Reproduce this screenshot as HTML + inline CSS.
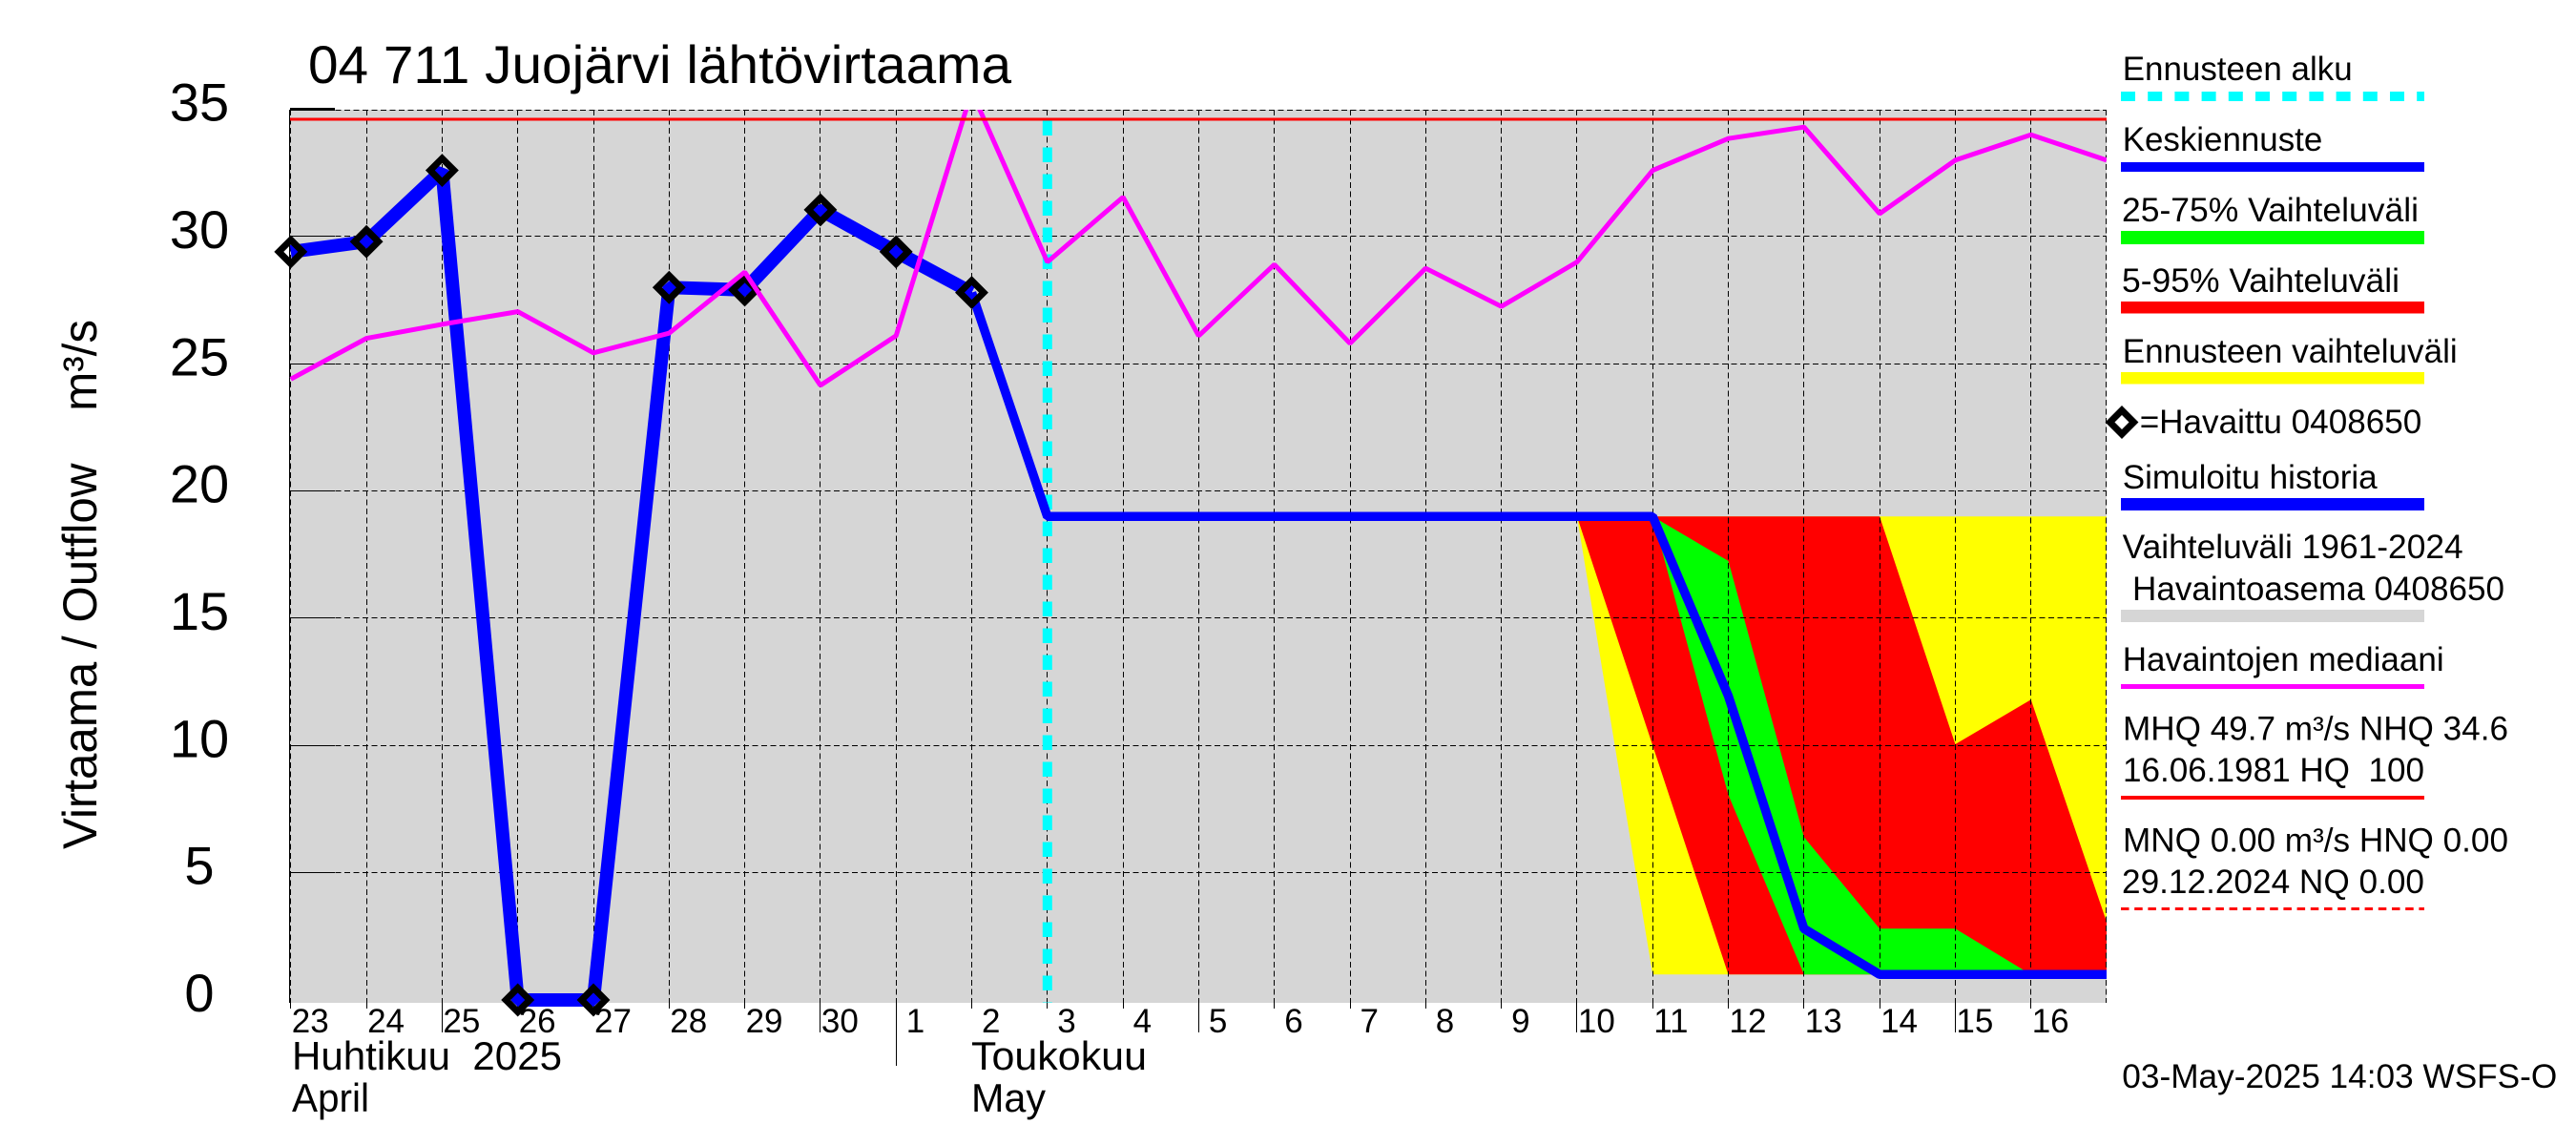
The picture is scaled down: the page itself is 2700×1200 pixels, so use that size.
<!DOCTYPE html>
<html lang="fi">
<head>
<meta charset="utf-8">
<title>04 711 Juojärvi lähtövirtaama</title>
<style>
  html, body { margin: 0; padding: 0; background: #fff; }
  svg { display: block; }
  text { font-family: "Liberation Sans", Arial, sans-serif; fill: #000; white-space: pre; }
  .lg { font-size: 35px; }
</style>
</head>
<body>
<svg id="chart" xmlns="http://www.w3.org/2000/svg" width="2700" height="1200" viewBox="0 0 2700 1200">
  <defs>
    <clipPath id="plot-clip"><rect x="303" y="115" width="1905" height="945"></rect></clipPath>
  </defs>
  <rect x="0" y="0" width="2700" height="1200" fill="#fff"></rect>
  <rect x="304" y="115" width="1904" height="936" fill="#d6d6d6"></rect>
  <g id="ranges"></g>
  <g id="grid"></g>
  <g id="series"></g>
  <g id="xlabels"></g>
  <g id="ylabels"></g>

  <text x="323" y="87" font-size="56" textLength="737" lengthAdjust="spacingAndGlyphs">04 711 Juojärvi lähtövirtaama</text>
  <text transform="translate(101,890) rotate(-90)" font-size="50" textLength="555" lengthAdjust="spacingAndGlyphs">Virtaama / Outflow    m³/s</text>

  <text x="306" y="1121" font-size="42" textLength="283" lengthAdjust="spacingAndGlyphs">Huhtikuu  2025</text>
  <text x="306" y="1165" font-size="42" textLength="81" lengthAdjust="spacingAndGlyphs">April</text>
  <text x="1018" y="1121" font-size="42" textLength="184" lengthAdjust="spacingAndGlyphs">Toukokuu</text>
  <text x="1018" y="1165" font-size="42" textLength="78" lengthAdjust="spacingAndGlyphs">May</text>

  <g>
    <text class="lg" x="2224.7" y="84" textLength="241" lengthAdjust="spacingAndGlyphs">Ennusteen alku</text>
    <line x1="2223" x2="2541" y1="101" y2="101" stroke="#00ffff" stroke-width="10" stroke-dasharray="15 13.2"></line>
    <text class="lg" x="2224.7" y="158" textLength="209.6" lengthAdjust="spacingAndGlyphs">Keskiennuste</text>
    <rect x="2223" y="170" width="318" height="10" fill="#0000ff"></rect>
    <text class="lg" x="2224" y="232" textLength="311" lengthAdjust="spacingAndGlyphs">25-75% Vaihteluväli</text>
    <rect x="2223" y="242" width="318" height="14" fill="#00ff00"></rect>
    <text class="lg" x="2224" y="306" textLength="291" lengthAdjust="spacingAndGlyphs">5-95% Vaihteluväli</text>
    <rect x="2223" y="316" width="318" height="12.5" fill="#ff0000"></rect>
    <text class="lg" x="2224.7" y="380" textLength="351" lengthAdjust="spacingAndGlyphs">Ennusteen vaihteluväli</text>
    <rect x="2223" y="390" width="318" height="12.5" fill="#ffff00"></rect>
    <path d="M2224 430 L2236.5 442.5 L2224 455 L2211.5 442.5 Z" fill="#fff" stroke="#000" stroke-width="7" stroke-linejoin="miter"></path>
    <text class="lg" x="2242.7" y="454" textLength="295.6" lengthAdjust="spacingAndGlyphs">=Havaittu 0408650</text>
    <text class="lg" x="2224.7" y="512" textLength="267" lengthAdjust="spacingAndGlyphs">Simuloitu historia</text>
    <rect x="2223" y="522" width="318" height="13" fill="#0000ff"></rect>
    <text class="lg" x="2224.7" y="585" textLength="357" lengthAdjust="spacingAndGlyphs">Vaihteluväli 1961-2024</text>
    <text class="lg" x="2235" y="629" textLength="390" lengthAdjust="spacingAndGlyphs">Havaintoasema 0408650</text>
    <rect x="2223" y="639" width="318" height="13" fill="#d6d6d6"></rect>
    <text class="lg" x="2224.7" y="703" textLength="337" lengthAdjust="spacingAndGlyphs">Havaintojen mediaani</text>
    <rect x="2223" y="717" width="318" height="5" fill="#ff00ff"></rect>
    <text class="lg" x="2225" y="775.5" textLength="404" lengthAdjust="spacingAndGlyphs">MHQ 49.7 m³/s NHQ 34.6</text>
    <text class="lg" x="2225" y="819" textLength="316" lengthAdjust="spacingAndGlyphs">16.06.1981 HQ  100</text>
    <rect x="2223" y="834" width="318" height="4" fill="#ff0000"></rect>
    <text class="lg" x="2225" y="892.5" textLength="404" lengthAdjust="spacingAndGlyphs">MNQ 0.00 m³/s HNQ 0.00</text>
    <text class="lg" x="2224" y="936" textLength="317" lengthAdjust="spacingAndGlyphs">29.12.2024 NQ 0.00</text>
    <line x1="2223" x2="2541" y1="952.5" y2="952.5" stroke="#ff0000" stroke-width="3" stroke-dasharray="8.5 5.7"></line>
  </g>
  <text class="lg" x="2224.3" y="1140" textLength="456" lengthAdjust="spacingAndGlyphs">03-May-2025 14:03 WSFS-O</text>
</svg>

<script>
// --- chart data -----------------------------------------------------------
const dayLabels = ["23","24","25","26","27","28","29","30","1","2","3","4","5","6","7","8","9","10","11","12","13","14","15","16"];
const yTickLabels = ["0","5","10","15","20","25","30","35"];
const yTickValues = [0,5,10,15,20,25,30,35];
const observedValues = [29.4,29.8,32.6,0,0,28.0,27.9,31.05,29.4,27.8];
const simulatedHistory = [29.4,29.8,32.6,0,0,28.0,27.9,31.05,29.4,27.8];
const meanForecast = [27.8,19,19,19,19,19,19,19,19,19,11.95,2.8,1,1,1,1];
const medianValues = [24.4,26.0,26.55,27.05,25.43,26.2,28.6,24.15,26.1,35.7,29.0,31.55,26.1,28.9,25.8,28.75,27.25,29.0,32.6,33.85,34.3,30.9,33.0,34.0,33.0];
const yellowUpper = [19,19,19,19,19,19,19,19];
const yellowLower = [19,1,1,1,1,1,1,1];
const redUpper = [19,19,19,19,19,10.05,11.8,3.07];
const redLower = [19,10,1,1,1,1,1,1];
const greenUpper = [19,19,17.25,6.4,2.8,2.8,1,1];
const greenLower = [19,19,8.06,1,1,1,1,1];
const highestFlow = 34.6;
const forecastStartDay = 10;
const rangeStartDay = 17;
const totalDays = 24;

// --- axis functions --------------------------------------------------------
const xAxis = d => 304.8 + d * 79.3;
const yAxis = v => 1048 - v * 26.67;

const NS = 'http://www.w3.org/2000/svg';
function mk(parent, tag, attrs) {
  const el = document.createElementNS(NS, tag);
  for (const k in attrs) el.setAttribute(k, attrs[k]);
  parent.appendChild(el);
  return el;
}
function linePts(values, start) {
  return values.map((v, i) => xAxis(start + i).toFixed(1) + ',' + yAxis(v).toFixed(1)).join(' ');
}
function bandPts(upper, lower, start) {
  const top = upper.map((v, i) => xAxis(start + i).toFixed(1) + ',' + yAxis(v).toFixed(1));
  const bot = lower.map((v, i) => xAxis(start + i).toFixed(1) + ',' + yAxis(v).toFixed(1)).reverse();
  return top.concat(bot).join(' ');
}
const px = v => Math.floor(v) + 0.5;

// --- ranges ----------------------------------------------------------------
const rangesG = document.getElementById('ranges');
const yellowBand = mk(rangesG, 'polygon', { points: bandPts(yellowUpper, yellowLower, rangeStartDay), fill: '#ffff00' });


const redBand = mk(rangesG, 'polygon', { points: bandPts(redUpper, redLower, rangeStartDay), fill: '#ff0000' });


const greenBand = mk(rangesG, 'polygon', { points: bandPts(greenUpper, greenLower, rangeStartDay), fill: '#00ff00' });



// --- grid ------------------------------------------------------------------
const gridG = document.getElementById('grid');
for (let d = 0; d <= totalDays; d++) {
  const gx = d === 0 ? 304.5 : px(Math.min(xAxis(d), 2207));
  const vl = mk(gridG, 'line', { x1: gx, x2: gx, y1: 115, y2: 1051, stroke: '#000', 'stroke-width': 1, 'stroke-dasharray': '6 3.5', 'shape-rendering': 'crispEdges' });
  
  
  if (d < totalDays) {
    const label = parseInt(dayLabels[d], 10);
    const longTick = label % 5 === 0;
    const t = mk(gridG, 'line', { x1: gx, x2: gx, y1: 1051, y2: longTick ? 1082 : 1057, stroke: '#000', 'stroke-width': 1, 'shape-rendering': 'crispEdges' });
    
    
  }
}
const leftAxis = mk(gridG, 'line', { x1: 303.5, x2: 303.5, y1: 115, y2: 1051, stroke: '#000', 'stroke-width': 1, 'shape-rendering': 'crispEdges' });


yTickValues.forEach(v => {
  const py = v === 35 ? 115.5 : px(yAxis(v));
  if (v > 0) {
    const hl = mk(gridG, 'line', { x1: 304, x2: 2208, y1: py, y2: py, stroke: '#000', 'stroke-width': 1, 'stroke-dasharray': '6 3.5', 'shape-rendering': 'crispEdges' });
    
    
    const yt = mk(gridG, 'line', { x1: 304, x2: 351, y1: v === 35 ? 114.5 : py, y2: v === 35 ? 114.5 : py, stroke: '#000', 'stroke-width': v === 35 ? 3 : 1, 'shape-rendering': 'crispEdges' });
    
    
  }
});
const monthSep = mk(gridG, 'line', { x1: px(xAxis(8)), x2: px(xAxis(8)), y1: 1051, y2: 1117, stroke: '#000', 'stroke-width': 1, 'shape-rendering': 'crispEdges' });



// --- series ----------------------------------------------------------------
const seriesG = document.getElementById('series');
const forecastStartLine = mk(seriesG, 'line', { x1: xAxis(forecastStartDay), x2: xAxis(forecastStartDay), y1: 126.5, y2: 1051, stroke: '#00ffff', 'stroke-width': 10, 'stroke-dasharray': '15.5 12.5' });



const historyLine = mk(seriesG, 'polyline', { points: linePts(simulatedHistory, 0), fill: 'none', stroke: '#0000ff', 'stroke-width': 14, 'stroke-linejoin': 'bevel' });



const forecastLine = mk(seriesG, 'polyline', { points: linePts(meanForecast, 9), fill: 'none', stroke: '#0000ff', 'stroke-width': 9.5, 'stroke-linejoin': 'bevel' });



observedValues.forEach((v, i) => {
  const cx = xAxis(i), cy = yAxis(v), r = 12.5;
  const dm = mk(seriesG, 'polygon', { points: [cx, cy - r, cx + r, cy, cx, cy + r, cx - r, cy].join(' '), fill: 'none', stroke: '#000', 'stroke-width': 7 });
  
  
});

const medianLine = mk(seriesG, 'polyline', { points: linePts(medianValues, 0), fill: 'none', stroke: '#ff00ff', 'stroke-width': 5, 'stroke-linejoin': 'bevel', 'clip-path': 'url(#plot-clip)' });



const hqLine = mk(seriesG, 'line', { x1: 304, x2: 2208, y1: yAxis(highestFlow), y2: yAxis(highestFlow), stroke: '#ff0000', 'stroke-width': 3, 'shape-rendering': 'crispEdges' });



// --- axis labels -----------------------------------------------------------
const xLabelsG = document.getElementById('xlabels');
dayLabels.forEach((lab, d) => {
  const t = mk(xLabelsG, 'text', { x: xAxis(d) + (lab.length === 1 ? 10.5 : 1), y: 1082, 'font-size': 35 });
  t.textContent = lab;
  
  
});
const yLabelsG = document.getElementById('ylabels');
yTickLabels.forEach((lab, i) => {
  const t = mk(yLabelsG, 'text', { x: 209, y: yAxis(yTickValues[i]) + 12, 'font-size': 56, 'text-anchor': 'middle' });
  t.textContent = lab;
  
  
});
</script>
</body>
</html>
